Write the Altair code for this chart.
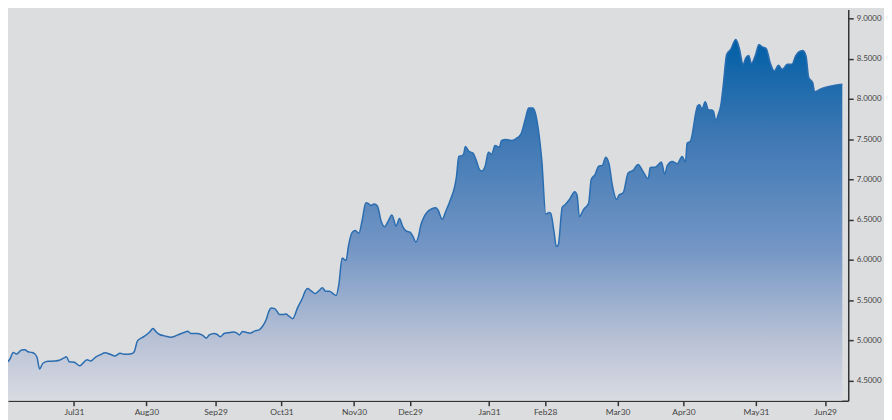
import altair as alt
import pandas as pd

# trading-day index and closing value
day = [0.0, 0.6, 1.6, 2.6, 4.1, 5.1, 6.1, 7.1, 8.1, 8.8, 9.6, 10.6, 12.1, 14.1, 15.6, 17.1, 17.7, 18.6,
       20.1, 21.8, 23.0, 24.0, 25.1, 26.5, 28.0, 29.5, 31.0, 32.5, 34.0, 35.5, 37.5, 38.3, 39.3, 41.2,
       43.0, 44.0, 45.0, 46.0, 47.5, 49.5, 50.5, 52.0, 53.5, 54.5, 55.5, 57.5, 59.0, 60.2, 61.1, 62.5,
       63.5, 64.4, 65.6, 67.4, 68.4, 69.4, 70.2, 71.2, 72.4, 73.6, 74.9, 76.2, 77.2, 78.4, 79.2, 79.9,
       80.9, 81.6, 82.4, 83.4, 84.4, 85.2, 86.4, 87.9, 89.4, 90.2, 90.9, 91.9, 93.2, 94.4, 95.4, 96.4,
       97.6, 98.6, 99.6, 100.4, 101.4, 102.1, 102.6, 103.3, 104.4, 105.4, 106.5, 107.5, 108.6, 109.3,
       110.1, 111.1, 112.1, 113.3, 114.3, 115.3, 116.5, 117.8, 118.8, 119.8, 120.8, 122.1, 122.8, 123.8,
       124.5, 125.3, 126.3, 127.3, 128.5, 129.8, 130.5, 131.8, 132.8, 134.3, 135.5, 136.1, 136.8, 137.8,
       138.3, 138.8, 139.8, 141.1, 142.1, 143.1, 143.8, 144.8, 145.8, 146.8, 147.8, 149.1, 149.8, 151.2,
       152.7, 154.2, 155.7, 157.0, 158.0, 159.2, 160.0, 161.0, 162.0, 163.2, 164.2, 164.7, 165.7, 166.4,
       167.0, 168.2, 169.2, 170.4, 172.0, 172.7, 173.4, 174.7, 176.2, 177.0, 178.2, 179.2, 180.4, 181.4,
       182.4, 183.4, 184.7, 185.4, 186.7, 188.2, 189.7, 191.2, 192.7, 194.3, 194.9, 196.6, 198.3, 199.3,
       200.1, 201.6, 203.1, 204.6, 205.6, 206.1, 207.1, 209.3, 209.9, 210.6, 211.6, 212.6, 213.6, 214.1,
       214.8, 215.6, 216.3, 217.1, 218.1, 219.3, 220.9, 221.9, 223.1, 223.9, 224.8, 225.6, 226.9, 227.9,
       228.9, 230.1, 231.3, 232.6, 233.8, 235.0, 236.5, 237.9, 239.0, 240.0, 241.2, 242.2, 243.0, 244.2,
       244.8, 246.5, 248.5, 251.0, 253.2]

price = [4.737, 4.771, 4.853, 4.832, 4.882, 4.885, 4.861, 4.853, 4.836, 4.792, 4.647, 4.718, 4.742, 4.746,
         4.755, 4.787, 4.799, 4.737, 4.730, 4.688, 4.730, 4.762, 4.746, 4.792, 4.824, 4.848, 4.829, 4.808,
         4.841, 4.829, 4.836, 4.861, 4.996, 5.048, 5.107, 5.149, 5.107, 5.075, 5.058, 5.042, 5.051, 5.079,
         5.100, 5.116, 5.088, 5.088, 5.067, 5.030, 5.070, 5.088, 5.075, 5.046, 5.088, 5.100, 5.107, 5.095,
         5.070, 5.112, 5.100, 5.091, 5.120, 5.132, 5.174, 5.264, 5.366, 5.403, 5.396, 5.366, 5.322, 5.322,
         5.329, 5.305, 5.272, 5.408, 5.531, 5.613, 5.646, 5.621, 5.584, 5.621, 5.655, 5.613, 5.613, 5.584,
         5.560, 5.695, 6.025, 6.004, 5.995, 6.168, 6.340, 6.365, 6.333, 6.497, 6.710, 6.703, 6.678, 6.694,
         6.670, 6.476, 6.414, 6.476, 6.559, 6.423, 6.515, 6.414, 6.361, 6.343, 6.300, 6.222, 6.284, 6.435,
         6.538, 6.599, 6.633, 6.649, 6.620, 6.506, 6.599, 6.752, 6.900, 7.031, 7.286, 7.295, 7.319, 7.409,
         7.351, 7.327, 7.237, 7.122, 7.105, 7.163, 7.339, 7.311, 7.422, 7.401, 7.483, 7.496, 7.483, 7.508,
         7.566, 7.751, 7.887, 7.887, 7.832, 7.607, 7.237, 6.571, 6.589, 6.580, 6.353, 6.168, 6.189, 6.653,
         6.691, 6.752, 6.846, 6.805, 6.538, 6.629, 6.703, 6.999, 7.064, 7.163, 7.175, 7.277, 7.196, 6.928,
         6.752, 6.805, 6.834, 7.080, 7.113, 7.187, 7.101, 7.011, 7.147, 7.154, 7.216, 7.064, 7.175, 7.224,
         7.196, 7.286, 7.216, 7.450, 7.475, 7.915, 7.927, 7.874, 7.964, 7.862, 7.862, 7.845, 7.730, 7.813,
         7.915, 8.182, 8.552, 8.614, 8.737, 8.634, 8.429, 8.510, 8.540, 8.441, 8.552, 8.676, 8.646, 8.626,
         8.449, 8.346, 8.417, 8.367, 8.429, 8.429, 8.531, 8.584, 8.602, 8.531, 8.264, 8.202, 8.088, 8.121,
         8.149, 8.170, 8.182]

tick_days = [20, 42, 63, 83, 105, 122, 146, 163, 185, 205, 227, 248]
tick_labels = ["Jul31", "Aug30", "Sep29", "Oct31", "Nov30", "Dec29",
               "Jan31", "Feb28", "Mar30", "Apr30", "May31", "Jun29"]
y_ticks = [4.5, 5.0, 5.5, 6.0, 6.5, 7.0, 7.5, 8.0, 8.5, 9.0]

x_domain = [0, 255]
y_domain = [4.253, 9.111]

df = pd.DataFrame({"day": day, "price": price})

label_expr = ""
for d, lab in zip(tick_days, tick_labels):
    label_expr += f"datum.value == {d} ? '{lab}' : "
label_expr += "''"

FONT = "Lato"

x_enc = alt.X("day:Q",
              scale=alt.Scale(domain=x_domain, nice=False, zero=False),
              axis=alt.Axis(values=tick_days, labelExpr=label_expr, title=None, grid=False,
                            domainColor="#333333", domainWidth=1.5, tickColor="#333333",
                            tickWidth=1.5, tickSize=5, labelColor="#444444", labelFont=FONT,
                            labelFontSize=8.5, labelPadding=2, labelFlush=False))
y_enc = alt.Y("price:Q",
              scale=alt.Scale(domain=y_domain, nice=False, zero=False),
              axis=alt.Axis(orient="right", values=y_ticks, format=".4f", title=None, grid=False,
                            domainColor="#333333", domainWidth=1.5, tickColor="#333333",
                            tickWidth=1.5, tickSize=5, labelColor="#444444", labelFont=FONT,
                            labelFontSize=8, labelPadding=3, labelFlush=False))

area = alt.Chart(df).mark_area(
    interpolate="monotone",
    color=alt.Gradient(
        gradient="linear",
        stops=[alt.GradientStop(color="#d9dbe2", offset=0),
               alt.GradientStop(color="#b8c1d5", offset=0.17),
               alt.GradientStop(color="#7496c5", offset=0.42),
               alt.GradientStop(color="#3a76b3", offset=0.75),
               alt.GradientStop(color="#005fa5", offset=1)],
        x1=1, x2=1, y1=1, y2=0),
).encode(x=x_enc, y=y_enc, y2=alt.datum(y_domain[0]))

line = alt.Chart(df).mark_line(
    interpolate="monotone", color="#2a6db0", strokeWidth=1.5
).encode(x=x_enc, y=y_enc)

chart = (area + line).properties(
    width=846, height=394,
    autosize=alt.AutoSizeParams(type="none"),
    padding={"left": 0, "top": 0, "right": 36, "bottom": 18},
    background="#dcdddf",
).configure_view(stroke=None)

chart.save("out.html", embed_options={"renderer": "svg", "actions": False})
